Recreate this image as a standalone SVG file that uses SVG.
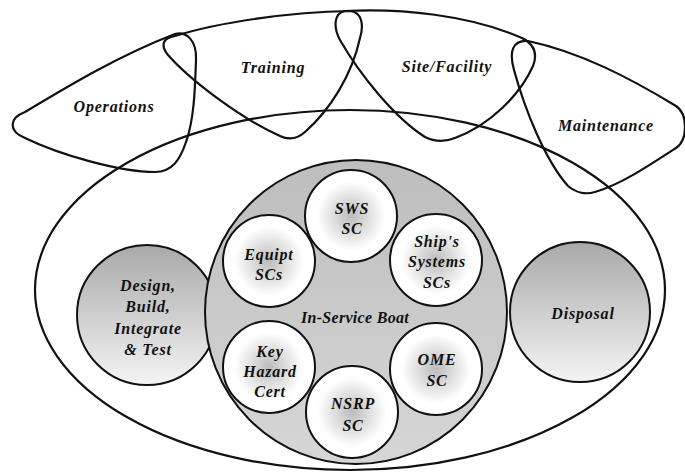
<svg xmlns="http://www.w3.org/2000/svg" width="685" height="473" viewBox="0 0 685 473">
<defs>
<style>
.ln{fill:none;stroke:#111;stroke-width:2.2;stroke-linejoin:round}
.ol{stroke:#111;stroke-width:2}
.t{font-family:"Liberation Serif","Times New Roman",serif;font-weight:bold;font-style:italic;font-size:16px;letter-spacing:0.8px;fill:#111;text-anchor:middle}
</style>
<linearGradient id="gBig" x1="0" y1="0" x2="0" y2="1">
<stop offset="0" stop-color="#a9a9a9"/>
<stop offset="0.55" stop-color="#d2d2d2"/>
<stop offset="1" stop-color="#f4f4f4"/>
</linearGradient>
<linearGradient id="gBoat" x1="0" y1="0" x2="0" y2="1">
<stop offset="0" stop-color="#bdbdbd"/>
<stop offset="1" stop-color="#d6d6d6"/>
</linearGradient>
<radialGradient id="gSmall" cx="0.5" cy="0.5" r="0.5">
<stop offset="0" stop-color="#bcbcbc"/>
<stop offset="0.45" stop-color="#e4e4e4"/>
<stop offset="0.75" stop-color="#ffffff"/>
<stop offset="1" stop-color="#ffffff"/>
</radialGradient>
</defs>
<rect width="685" height="473" fill="#fff"/>

<g id="lifecycle">
<ellipse class="ln" cx="350" cy="290" rx="315" ry="180"/>
</g>

<g id="operations">
<path class="ln" d="M25,112 C70,85 120,55 175,34 C186,31 197,40 196,60 C195,90 194,120 186,142 C180,160 172,172 155,172 C120,172 60,155 25,138 C8,131 9,118 25,112 Z"/>
<text class="t" x="114" y="112">Operations</text>
</g>

<g id="training">
<path class="ln" d="M175,36 C220,22 290,12 350,11 C362,12 364,25 360,38 C352,75 330,110 305,132 C297,139 288,140 280,136 C240,118 190,80 168,55 C160,45 163,38 175,36 Z"/>
<text class="t" x="273" y="73">Training</text>
</g>

<g id="site-facility">
<path class="ln" d="M345,11 C400,8 470,15 522,38 C534,44 538,53 533,66 C520,95 490,125 455,138 C445,142 435,142 425,137 C395,118 360,75 340,40 C333,27 334,13 345,11 Z"/>
<text class="t" x="447" y="72">Site/Facility</text>
</g>

<g id="maintenance">
<path class="ln" d="M528,41 C580,52 630,78 676,106 C688,114 688,140 676,148 C650,165 620,185 595,192 C585,195 575,192 568,186 C545,160 525,110 514,70 C509,52 512,40 528,41 Z"/>
<text class="t" x="606" y="131">Maintenance</text>
</g>

<g id="design-build">
<circle class="ol" cx="147" cy="315" r="70" fill="url(#gBig)"/>
<text class="t" x="148" y="291">Design,</text>
<text class="t" x="148" y="312">Build,</text>
<text class="t" x="148" y="334">Integrate</text>
<text class="t" x="148" y="355">&amp; Test</text>
</g>

<g id="disposal">
<circle class="ol" cx="580" cy="312" r="70" fill="url(#gBig)"/>
<text class="t" x="583" y="319">Disposal</text>
</g>

<g id="in-service-boat">
<ellipse class="ol" cx="356" cy="312" rx="151" ry="152" fill="url(#gBoat)"/>
<text class="t" x="355" y="323" style="letter-spacing:0.3px">In-Service Boat</text>
</g>

<g id="sws-sc">
<circle class="ol" cx="351" cy="216" r="46" fill="url(#gSmall)"/>
<text class="t" x="352" y="214">SWS</text>
<text class="t" x="352" y="234">SC</text>
</g>

<g id="equipt-scs">
<circle class="ol" cx="269" cy="261" r="46" fill="url(#gSmall)"/>
<text class="t" x="269" y="260">Equipt</text>
<text class="t" x="269" y="280">SCs</text>
</g>

<g id="ships-systems-scs">
<circle class="ol" cx="436" cy="260" r="46" fill="url(#gSmall)"/>
<text class="t" x="437" y="247">Ship's</text>
<text class="t" x="437" y="267">Systems</text>
<text class="t" x="437" y="288">SCs</text>
</g>

<g id="key-hazard-cert">
<circle class="ol" cx="269" cy="367" r="46" fill="url(#gSmall)"/>
<text class="t" x="270" y="357">Key</text>
<text class="t" x="270" y="377">Hazard</text>
<text class="t" x="270" y="397">Cert</text>
</g>

<g id="ome-sc">
<circle class="ol" cx="436" cy="369" r="46" fill="url(#gSmall)"/>
<text class="t" x="437" y="365">OME</text>
<text class="t" x="437" y="386">SC</text>
</g>

<g id="nsrp-sc">
<circle class="ol" cx="352" cy="412" r="46" fill="url(#gSmall)"/>
<text class="t" x="353" y="409">NSRP</text>
<text class="t" x="353" y="431">SC</text>
</g>

<g id="connectors"></g>
</svg>
